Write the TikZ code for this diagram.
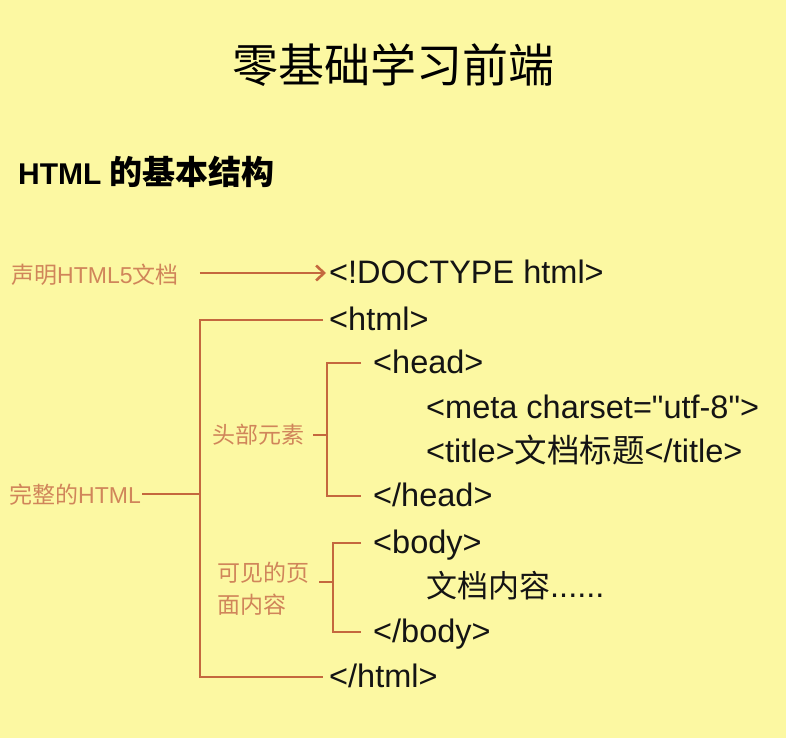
\documentclass[tikz,border=0pt]{standalone}
\usepackage{fontspec}
\setmainfont{Liberation Sans}[Ligatures=TeXOff]
\newfontfamily\cjk{Noto Sans CJK SC}
\usetikzlibrary{arrows.meta,positioning}
\definecolor{paper}{HTML}{FCF8A2}
\definecolor{rust}{HTML}{C4683E}
\definecolor{peach}{HTML}{D0855A}
\tikzset{>={Straight Barb[length=8pt,width=15pt]}}
\tikzset{
  code/.style={anchor=west, inner sep=1pt, text height=23pt, text depth=1.5pt,
    font=\fontsize{32.5}{32.5}\selectfont, text=black!92},
  note/.style={inner sep=1pt, text=peach, font=\fontsize{23}{32}\selectfont},
  brk/.style={draw=rust, line width=2.6pt},
}
\begin{document}
\begin{tikzpicture}[x=1pt,y=-1pt]
  \useasboundingbox[fill=paper] (0,0) rectangle (786,738);

  % Titles
  \node[font=\fontsize{46}{46}\selectfont\cjk] (title) at (393,65) {零基础学习前端};
  \node[anchor=west, inner sep=0pt, font=\fontsize{30}{30}\selectfont\bfseries]
    (sub) at (18,172) {HTML {\fontsize{33}{33}\selectfont\cjk 的基本结构}};

  % Code lines
  \node[code] (doctype) at (328,273) {<!DOCTYPE html>};
  \node[code] (html)    at (328,320) {<html>};
  \node[code] (head)    at (372,363) {<head>};
  \node[code] (meta)    at (425,408) {<meta charset="utf-8">};
  \node[code] (ttl)     at (425,452) {<title>{\cjk 文档标题}</title>};
  \node[code] (headend) at (372,496) {</head>};
  \node[code] (body)    at (372,543) {<body>};
  \node[code] (content) at (425,587) {{\fontsize{31}{31}\selectfont\cjk 文档内容}......};
  \node[code] (bodyend) at (372,632) {</body>};
  \node[code] (htmlend) at (328,677) {</html>};

  % Notes
  \node[note, anchor=west] (decl)    at (10,275)  {{\cjk 声明}HTML5{\cjk 文档}};
  \node[note, anchor=west] (full)    at (8,495)   {{\cjk 完整的}HTML};
  \node[note, anchor=east] (headlbl) at (306,435) {\cjk 头部元素};
  \node[note, anchor=east, align=left] (bodylbl) at (311,589) {\cjk 可见的页\\\cjk 面内容};

  % Bracket corners
  \coordinate (spine) at (200,494);
  \coordinate (hk)    at (327,435);
  \coordinate (bk)    at (333,582);

  % Edges
  \draw[brk, ->, shorten <=20pt, shorten >=2pt] (decl.east |- doctype.west) -- (doctype.west);
  \draw[brk, shorten <=5pt, shorten >=5pt] (html.west) -| (spine) |- (htmlend.west);
  \draw[brk] (full.east |- spine) -- (spine);
  \draw[brk, shorten <=11pt, shorten >=11pt] (head.west) -| (hk) |- (headend.west);
  \draw[brk, shorten <=7pt] (headlbl.east) -- (hk);
  \draw[brk, shorten <=11pt, shorten >=11pt] (body.west) -| (bk) |- (bodyend.west);
  \draw[brk, shorten <=8pt] (bodylbl.east |- bk) -- (bk);
\end{tikzpicture}
\end{document}
